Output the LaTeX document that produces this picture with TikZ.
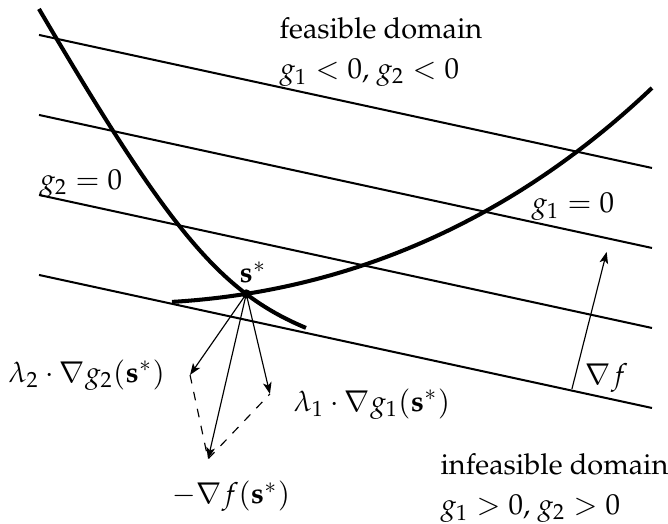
\documentclass[tikz,border=0pt]{standalone}
\usepackage[T1]{fontenc}
\usepackage{mathpazo}
\usepackage{tikz}
\usetikzlibrary{positioning,arrows.meta}
\tikzset{
    levelline/.style={line width=0.7pt},
    boundary/.style={line width=1.4pt},
    vecarrow/.style={line width=0.4pt, -{Stealth[length=4pt,width=3pt,inset=1pt]}},
    sumline/.style={line width=0.4pt, dashed},
    lbl/.style={inner sep=0pt}
}

\begin{document}
\begin{tikzpicture}
\useasboundingbox (0,0) rectangle (8.124,6.372);

\foreach \k in {0,1,2,3}
    \draw[levelline] (0.474,{5.947-0.973*\k}) -- (7.929,{4.329-0.973*\k});

\draw[boundary] (0.474,6.263) .. controls (2.055,3.575) and (2.675,2.821) .. (3.721,2.384);
\draw[boundary] (2.092,2.700) .. controls (4.402,2.838) and (6.348,3.800) .. (7.929,5.302);

\coordinate (sstar) at (2.995,2.797);
\coordinate (ltwo) at (2.311,1.812);
\coordinate (lone) at (3.283,1.581);
\coordinate (negf) at (2.530,0.790);
\coordinate (fbase) at (6.956,1.642);
\coordinate (ftip) at (7.378,3.308);

\draw[vecarrow] (sstar) -- (ltwo);
\draw[vecarrow] (sstar) -- (lone);
\draw[vecarrow] (sstar) -- (negf);
\draw[sumline] (ltwo) -- (negf) -- (lone);
\draw[vecarrow] (fbase) -- (ftip);
\fill (sstar) circle (1.6pt);

\node[lbl, anchor=base] (slabel) at (3.077,2.931) {$\mathbf{s}^*$};
\node[lbl, left=8.5pt of ltwo] (ltwolabel) {$\lambda_2 \cdot \nabla g_2(\mathbf{s}^*)$};
\node[lbl, right=8pt of lone, yshift=-3.5pt] (lonelabel) {$\lambda_1 \cdot \nabla g_1(\mathbf{s}^*)$};
\node[lbl, below=7.5pt of negf, xshift=8pt] (negflabel) {$-\nabla f(\mathbf{s}^*)$};
\node[lbl, anchor=base west] (gtwo) at (0.474,4.062) {$g_2 = 0$};
\node[lbl, anchor=base west] (gone) at (6.458,3.782) {$g_1 = 0$};
\node[lbl, anchor=base west] (gradf) at (7.114,1.690) {$\nabla f$};
\node[
    lbl,
    anchor=north west,
    align=left
] (feasible) at (3.393,6.166) {feasible domain\\[2pt] $g_1 < 0$, $g_2 < 0$};
\node[
    lbl,
    anchor=north west,
    align=left
] (infeasible) at (5.351,0.863) {infeasible domain\\[2pt] $g_1 > 0$, $g_2 > 0$};
\end{tikzpicture}
\end{document}
